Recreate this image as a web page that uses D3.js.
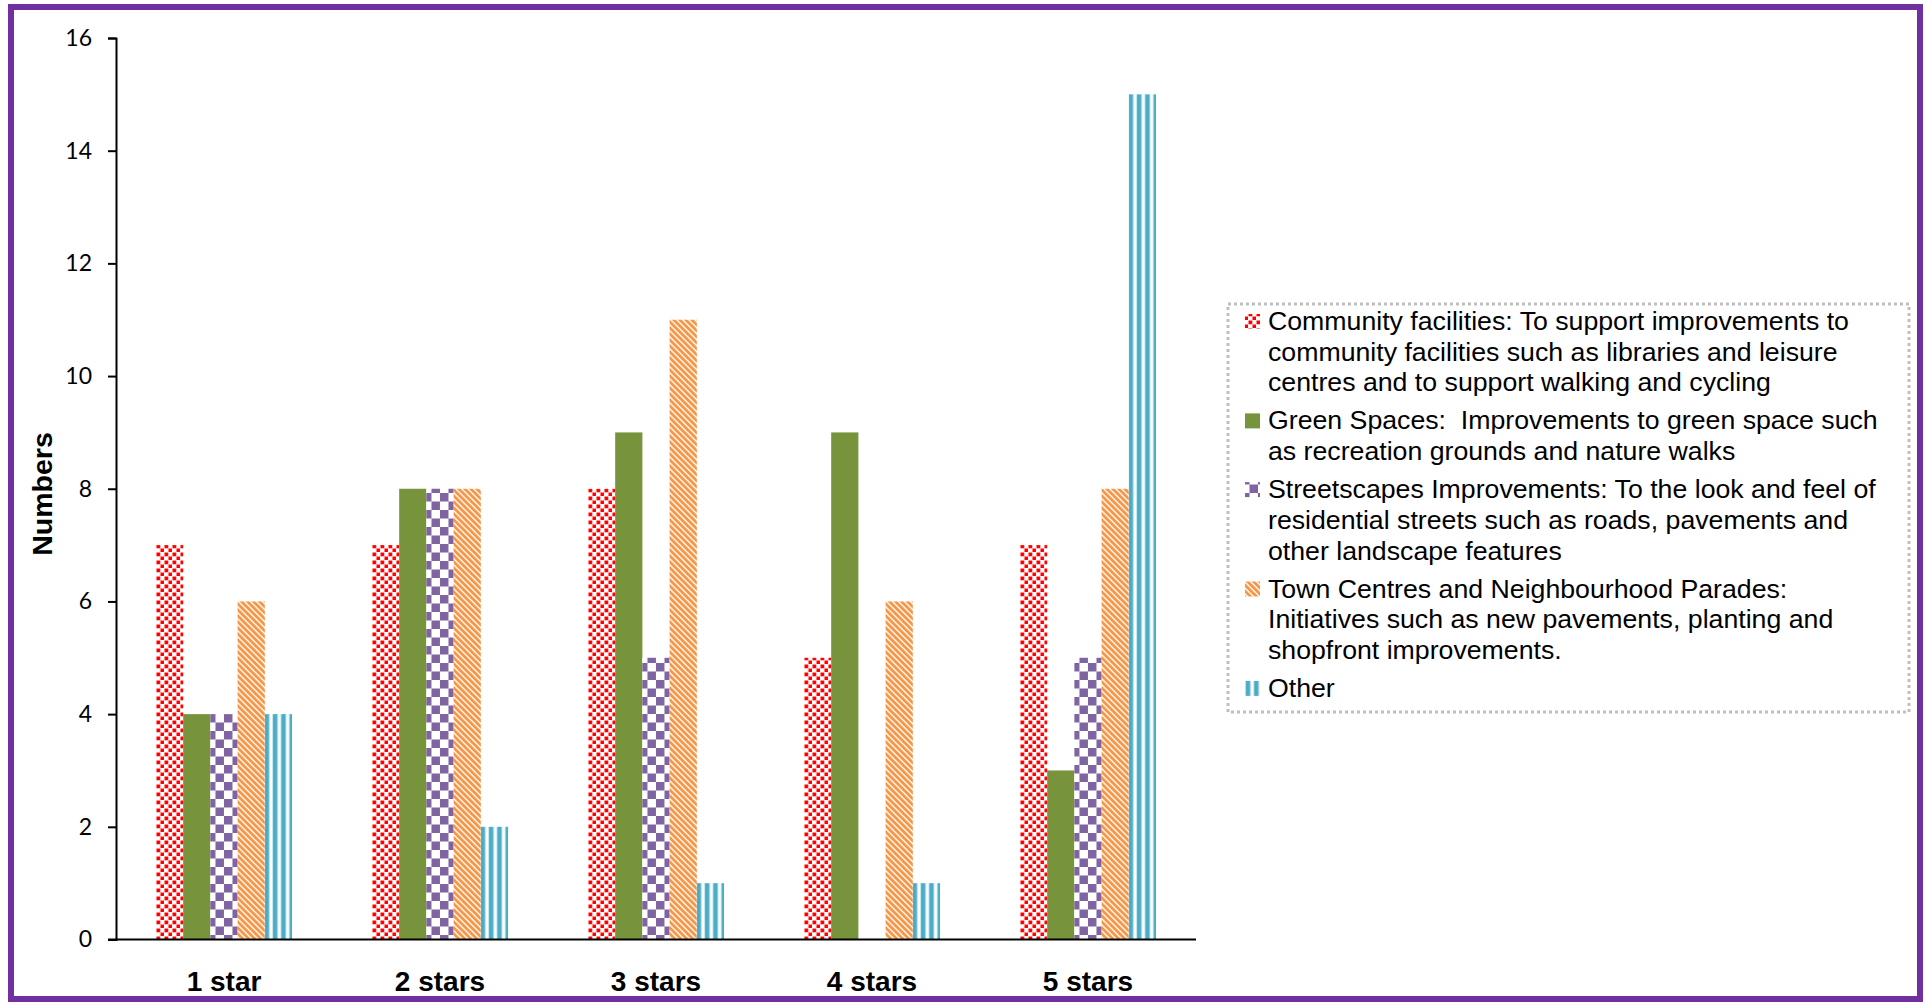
<!DOCTYPE html>
<html>
<head>
<meta charset="utf-8">
<script src="https://cdn.jsdelivr.net/npm/d3@7"></script>
<style>
  html, body { margin: 0; padding: 0; background: #fff; }
  svg { display: block; }
</style>
</head>
<body>
<svg id="chart" width="1926" height="1002"></svg>
<script>
// ---------- data ----------
const categories = ["1 star", "2 stars", "3 stars", "4 stars", "5 stars"];
const seriesKeys = ["community", "green", "streets", "town", "other"];
const communityValues = [7, 7, 8, 5, 7];
const greenValues     = [4, 8, 9, 9, 3];
const streetsValues   = [4, 8, 5, 0, 5];
const townValues      = [6, 8, 11, 6, 8];
const otherValues     = [4, 2, 1, 1, 15];
const yTicks = [0, 2, 4, 6, 8, 10, 12, 14, 16];
const yLabel = "Numbers";
const legendLines = [
  ["Community facilities: To support improvements to",
   "community facilities such as libraries and leisure",
   "centres and to support walking and cycling"],
  ["Green Spaces:  Improvements to green space such",
   "as recreation grounds and nature walks"],
  ["Streetscapes Improvements: To the look and feel of",
   "residential streets such as roads, pavements and",
   "other landscape features"],
  ["Town Centres and Neighbourhood Parades:",
   "Initiatives such as new pavements, planting and",
   "shopfront improvements."],
  ["Other"]
];
const seriesValues = [communityValues, greenValues, streetsValues, townValues, otherValues];

// ---------- setup ----------
const svg = d3.select("#chart");
const defs = svg.append("defs");

// patterns
const pRed = defs.append("pattern").attr("id", "p-community")
  .attr("patternUnits", "userSpaceOnUse").attr("width", 8).attr("height", 8);
pRed.append("rect").attr("width", 8).attr("height", 8).attr("fill", "#fff");
pRed.append("rect").attr("x", 0.5).attr("y", 0.5).attr("width", 3.8).attr("height", 3.8).attr("fill", "#FF0000");
pRed.append("rect").attr("x", 4.5).attr("y", 4.5).attr("width", 3.8).attr("height", 3.8).attr("fill", "#FF0000");

const pGreen = defs.append("pattern").attr("id", "p-green")
  .attr("patternUnits", "userSpaceOnUse").attr("width", 4).attr("height", 4);
pGreen.append("rect").attr("width", 4).attr("height", 4).attr("fill", "#77933C");

const pPurple = defs.append("pattern").attr("id", "p-streets")
  .attr("patternUnits", "userSpaceOnUse").attr("width", 17).attr("height", 17);
pPurple.append("rect").attr("width", 17).attr("height", 17).attr("fill", "#fff");
pPurple.append("rect").attr("x", 0).attr("y", 0).attr("width", 8.5).attr("height", 8.5).attr("fill", "#8064A2");
pPurple.append("rect").attr("x", 8.5).attr("y", 8.5).attr("width", 8.5).attr("height", 8.5).attr("fill", "#8064A2");

const pOrange = defs.append("pattern").attr("id", "p-town")
  .attr("patternUnits", "userSpaceOnUse").attr("width", 6).attr("height", 6);
pOrange.append("rect").attr("width", 6).attr("height", 6).attr("fill", "#fff");
pOrange.append("path").attr("d", "M-1,-1 L7,7 M-1,5 L1,7 M5,-1 L7,1")
  .attr("stroke", "#F79646").attr("stroke-width", 2.9).attr("fill", "none");

const pBlue = defs.append("pattern").attr("id", "p-other")
  .attr("patternUnits", "userSpaceOnUse").attr("width", 8.3).attr("height", 8);
pBlue.append("rect").attr("width", 8.3).attr("height", 8).attr("fill", "#fff");
pBlue.append("rect").attr("x", 0).attr("width", 6).attr("height", 8).attr("fill", "#BFE2EC");
pBlue.append("rect").attr("x", 1).attr("width", 4).attr("height", 8).attr("fill", "#4BACC6");

const fills = {
  community: "url(#p-community)", green: "url(#p-green)", streets: "url(#p-streets)",
  town: "url(#p-town)", other: "url(#p-other)"
};

// border
svg.append("rect").attr("x", 11).attr("y", 7).attr("width", 1909).attr("height", 992)
  .attr("fill", "none").attr("stroke", "#7030A0").attr("stroke-width", 6);

// scales
const x0 = d3.scaleBand().domain(categories).range([116, 1196])
  .paddingInner(0.37).paddingOuter(0.185);
const x1 = d3.scaleBand().domain(seriesKeys).range([0, x0.bandwidth()]);
const y = d3.scaleLinear().domain([0, 16]).range([939.5, 38]);

// bars
const groups = svg.append("g").selectAll("g").data(categories).join("g")
  .attr("transform", d => `translate(${x0(d)},0)`);
groups.selectAll("rect")
  .data((c, ci) => seriesKeys.map((k, si) => ({ key: k, value: seriesValues[si][ci] })))
  .join("rect")
  .attr("x", d => x1(d.key))
  .attr("y", d => y(d.value))
  .attr("width", x1.bandwidth())
  .attr("height", d => y(0) - y(d.value))
  .attr("fill", d => fills[d.key]);

// y axis
const yAxis = d3.axisLeft(y).tickValues(yTicks).tickSize(8).tickPadding(16).tickFormat(d3.format("d"));
const gy = svg.append("g").attr("transform", "translate(116,0)").call(yAxis);
gy.select(".domain").attr("stroke", "#000").attr("stroke-width", 2);
gy.selectAll(".tick line").attr("stroke", "#000").attr("stroke-width", 2);
gy.selectAll(".tick text").attr("font-family", "Lato, 'Open Sans', sans-serif")
  .attr("font-size", 23).attr("fill", "#000");

// x axis
const xAxis = d3.axisBottom(x0).tickSize(0).tickSizeOuter(0).tickPadding(0);
const gx = svg.append("g").attr("transform", `translate(0,${y(0)})`).call(xAxis);
gx.select(".domain").attr("d", "M108,0H1196").attr("stroke", "#000").attr("stroke-width", 2);
gx.selectAll(".tick text")
  .attr("font-family", "'Liberation Sans', Arial, sans-serif")
  .attr("font-weight", "bold").attr("font-size", 28).attr("fill", "#000")
  .attr("dy", null).attr("y", 51);

// y label
svg.append("text")
  .attr("transform", "translate(52,494) rotate(-90)")
  .attr("text-anchor", "middle")
  .attr("font-family", "'Liberation Sans', Arial, sans-serif")
  .attr("font-weight", "bold").attr("font-size", 28.5)
  .text(yLabel);

// legend
svg.append("rect").attr("x", 1228).attr("y", 304).attr("width", 681).attr("height", 408)
  .attr("fill", "#fff").attr("stroke", "#BFBFBF").attr("stroke-width", 3)
  .attr("stroke-dasharray", "3,3");

const lineStep = 30.7, itemGap = 38;
let baseY = 330;
const legend = svg.append("g");
seriesKeys.forEach((k, i) => {
  const lines = legendLines[i];
  const g = legend.append("g");
  g.append("rect").attr("x", 1245).attr("y", baseY - 16).attr("width", 15).attr("height", 15)
    .attr("fill", fills[k]);
  const t = g.append("text")
    .attr("font-family", "'Liberation Sans', Arial, sans-serif")
    .attr("font-size", 26.7).attr("fill", "#000")
    .style("white-space", "pre");
  lines.forEach((ln, j) => {
    t.append("tspan").attr("x", 1268).attr("y", baseY + j * lineStep).text(ln);
  });
  baseY += (lines.length - 1) * lineStep + itemGap;
});
</script>
</body>
</html>
